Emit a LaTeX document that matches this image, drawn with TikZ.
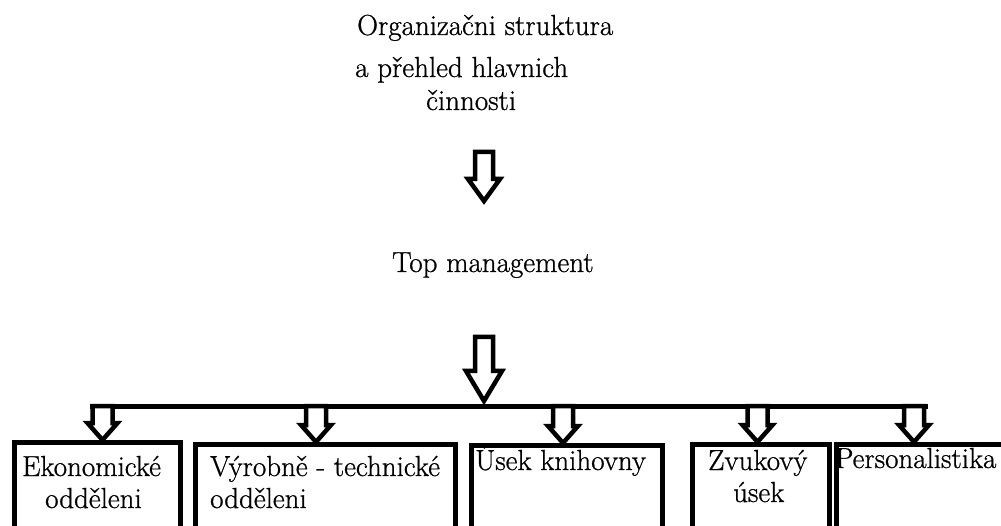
\documentclass[tikz,border=0pt]{standalone}
\usepackage{fontspec}
\setmainfont{Latin Modern Roman}[FakeBold=0.8]
\usetikzlibrary{calc}
\tikzset{
  lbl/.style={anchor=base west, inner sep=0pt, font=\fontsize{29}{33}\selectfont},
  orgbox/.style={draw, line width=5pt, anchor=north west, inner sep=0pt, minimum height=130pt},
  blockar/.style={draw, fill=white, line width=4.5pt, line join=miter},
  busline/.style={line width=5pt, line cap=butt}
}
% #1 start, #2 tip, #3 shaft half width, #4 head half width, #5 head length
\newcommand\blockarrow[5]{%
  \path[blockar] let \p1=(#1), \p2=(#2) in
    (\x2-#3,\y1) -- (\x2-#3,\y2+#5) -- (\x2-#4,\y2+#5) -- (\x2,\y2)
    -- (\x2+#4,\y2+#5) -- (\x2+#3,\y2+#5) -- (\x2+#3,\y1) -- cycle;}
\begin{document}
\begin{tikzpicture}[x=1pt,y=-1pt]
\useasboundingbox (0,0) rectangle (1001,526);
\clip (0,0) rectangle (1001,526);
\fill[white] (0,0) rectangle (1001,526);

% title
\node[lbl] (t1) at (357,35) {Organizačni struktura};
\node[lbl] (t2) at (355,77) {a přehled hlavnich};
\node[lbl] (t3) at (426,110) {činnosti};
\node[lbl] (top) at (392,272) {Top management};

% boxes
\node[orgbox, minimum width=166pt] (b1) at (11.5,440) {};
\node[orgbox, minimum width=260pt] (b2) at (193,442) {};
\node[orgbox, minimum width=191pt] (b3) at (469,443) {};
\node[orgbox, minimum width=137pt] (b4) at (690,442) {};
\node[orgbox, minimum width=190pt] (b5) at (834,442) {};

% box texts
\node[lbl] (b1a) at (22,476) {Ekonomické};
\node[lbl] (b1b) at (45,508) {odděleni};
\node[lbl] (b2a) at (210,476) {Výrobně - technické};
\node[lbl] (b2b) at (210,508) {odděleni};
\node[lbl] (b3a) at (475,470) {Úsek knihovny};
\node[lbl] (b4a) at (708,470) {Zvukový};
\node[lbl] (b4b) at (733,502) {úsek};
\node[lbl] (b5a) at (835,468) {Personalistika};

% connector coordinates
\coordinate (a1s) at (484,152);
\coordinate (a1e) at (484,201);
\coordinate (a2s) at (484,337);
\coordinate (a2e) at (484,401);
\coordinate (busL) at (90,406);
\coordinate (busR) at (928,406);
\coordinate (c1) at (102.5,406);
\coordinate (c2) at (316,406);
\coordinate (c3) at (563,406);
\coordinate (c4) at (757.5,406);
\coordinate (c5) at (914,406);

% bus
\draw[busline] (busL) -- (busR);

% arrows
\blockarrow{a1s}{a1e}{9}{16}{22}
\blockarrow{a2s}{a2e}{9}{18}{30}
\blockarrow{c1}{c1 |- b1.north}{10}{15}{17}
\blockarrow{c2}{c2 |- b2.north}{10}{15}{17}
\blockarrow{c3}{c3 |- b3.north}{10}{15}{17}
\blockarrow{c4}{c4 |- b4.north}{10}{15}{17}
\blockarrow{c5}{c5 |- b5.north}{10}{15}{17}
\end{tikzpicture}
\end{document}
